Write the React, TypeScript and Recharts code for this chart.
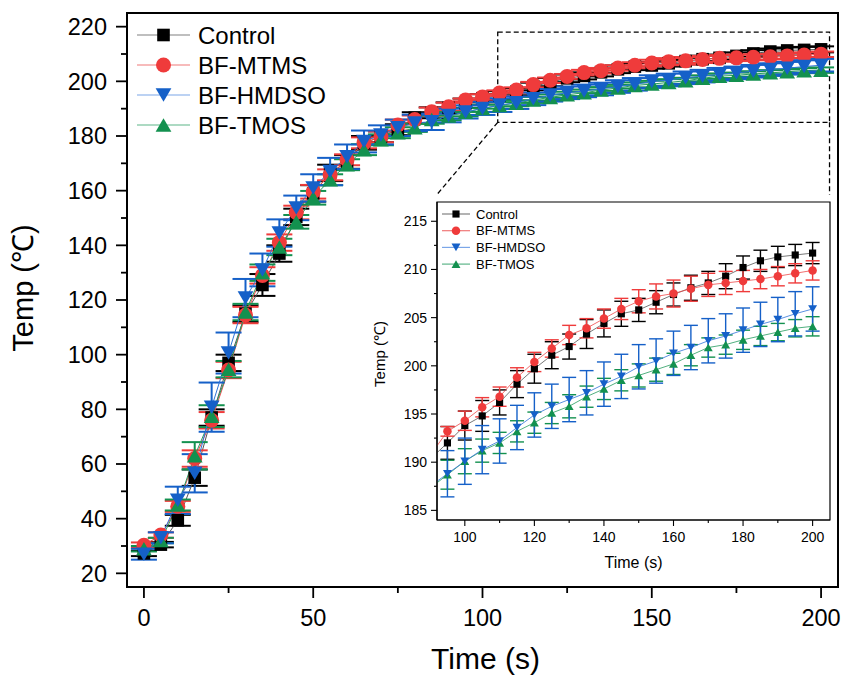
import React from 'react';
import {
  LineChart, Line, XAxis, YAxis, ErrorBar, ReferenceArea, ReferenceLine, Legend,
} from 'recharts';

const FONT = '"Liberation Sans", Arial, sans-serif';

// time points (s)
const time = [
  0, 5, 10, 15, 20, 25, 30, 35, 40, 45, 50, 55, 60, 65, 70, 75, 80, 85, 90, 95,
  100, 105, 110, 115, 120, 125, 130, 135, 140, 145, 150, 155, 160, 165, 170, 175, 180, 185, 190, 195, 200,
];

// temperatures (°C)
const control = [
  27.3, 30.5, 39.4, 55, 77, 97, 115, 125.5, 137, 150.4, 159, 166.5, 170.5, 177.5, 179.7, 182.3, 186.7, 188.5, 190.3, 192.0,
  193.8, 194.8, 196.2, 198.1, 199.7, 201.1, 202.0, 203.3, 204.4, 205.4, 205.8, 206.6, 207.4, 208.1, 208.6, 209.3, 210.2, 210.9, 211.3, 211.5, 211.7,
];
const controlErr = [
  1, 1, 2, 3, 3, 3, 3, 4, 3, 3, 3, 3, 2.5, 2.5, 2, 2, 2, 2, 2, 1.7,
  1.5, 1.6, 1.3, 1.4, 1.5, 1.4, 1.3, 1.5, 1.4, 1.3, 1.2, 1.2, 1.2, 1.3, 1.2, 1.3, 1.2, 1.1, 1.1, 1.1, 1.1,
];
const mtms = [
  30.3, 34, 44.5, 62, 76, 94.4, 114.5, 129, 141, 152, 159.6, 165.8, 171.3, 177.5, 179.7, 184, 186, 188.9, 190.7, 193.2,
  194.3, 195.7, 196.8, 198.8, 200.4, 201.8, 203.2, 203.9, 204.9, 205.9, 206.7, 207.2, 207.5, 208.0, 208.4, 208.6, 208.8, 209.0, 209.3, 209.6, 209.9,
];
const mtmsErr = [
  1, 1, 2, 3, 3, 3, 3, 3, 3, 2.5, 2.5, 2, 2, 2, 2, 2, 1.5, 1.5, 1.5, 0.5,
  1.0, 1.0, 1.0, 1.0, 1.0, 0.9, 1.0, 1.0, 1.0, 1.1, 1.2, 1.3, 1.4, 1.3, 1.2, 1.2, 1.1, 1.0, 1.0, 1.0, 1.0,
];
const hmdso = [
  27, 33, 46.7, 56.6, 80.8, 100.6, 120.7, 131, 144.5, 153.7, 161, 167, 172.4, 178, 180.4, 183, 184.8, 185.2, 187.5, 188.8,
  190.1, 191.3, 192.2, 193.6, 194.9, 195.8, 196.5, 197.2, 198.1, 198.9, 199.9, 200.5, 201.3, 201.9, 202.6, 203.1, 203.7, 204.3, 204.8, 205.4, 205.9,
];
const hmdsoErr = [
  2, 2, 5, 7, 9, 7.5, 7, 6, 5, 4.5, 5, 5, 4.5, 4, 3.5, 3, 3, 3, 2.5, 2.4,
  2.4, 2.5, 2.3, 2.3, 2.3, 2.3, 2.3, 2.3, 2.3, 2.3, 2.3, 2.3, 2.3, 2.3, 2.3, 2.3, 2.3, 2.3, 2.3, 2.3, 2.3,
];
const tmos = [
  29, 32, 45, 63, 77.5, 94.7, 115.6, 130, 139.4, 148.6, 157.4, 164, 169.5, 175, 178.6, 181.2, 183, 186, 187.3, 188.7,
  190.1, 191.2, 192.0, 193.2, 194.1, 195.1, 195.8, 196.8, 197.6, 198.5, 199.0, 199.6, 200.2, 201.1, 201.9, 202.2, 202.7, 203.1, 203.5, 203.9, 204.1,
];
const tmosErr = [
  1, 1, 2, 5, 4, 3, 3, 3, 3, 2.5, 2.5, 2, 2, 2, 2, 2, 1.5, 1.5, 1.5, 1.5,
  1.3, 1.2, 1.1, 1.1, 1.1, 1.1, 1.2, 1.1, 1.1, 1.1, 1.2, 1.2, 1.1, 1.1, 1.0, 1.0, 1.0, 1.0, 0.9, 0.9, 1.0,
];

const mainXTicks = [0, 25, 50, 75, 100, 125, 150, 175, 200];
const mainYTicks = [20, 30, 40, 50, 60, 70, 80, 90, 100, 110, 120, 130, 140, 150, 160, 170, 180, 190, 200, 210, 220];
const insetXTicks = [100, 110, 120, 130, 140, 150, 160, 170, 180, 190, 200];
const insetYTicks = [185, 187.5, 190, 192.5, 195, 197.5, 200, 202.5, 205, 207.5, 210, 212.5, 215];

const series = [
  { key: 'control', err: 'controlErr', name: 'Control', color: '#000000', line: '#555555', legendLine: '#808080', shape: 'square' },
  { key: 'mtms', err: 'mtmsErr', name: 'BF-MTMS', color: '#ef3b3b', line: '#ee4a4a', legendLine: '#f07878', shape: 'circle' },
  { key: 'hmdso', err: 'hmdsoErr', name: 'BF-HMDSO', color: '#1560c8', line: '#2f74d8', legendLine: '#7ba6e8', shape: 'down' },
  { key: 'tmos', err: 'tmosErr', name: 'BF-TMOS', color: '#13914f', line: '#249c5e', legendLine: '#5db588', shape: 'up' },
];
// drawing order (HMDSO on top)
const drawOrder = ['control', 'mtms', 'tmos', 'hmdso'];

const data = time.map((t, i) => ({
  t,
  control: control[i], controlErr: controlErr[i],
  mtms: mtms[i], mtmsErr: mtmsErr[i],
  hmdso: hmdso[i], hmdsoErr: hmdsoErr[i],
  tmos: tmos[i], tmosErr: tmosErr[i],
}));

const insetData = data
  .filter((d) => d.t >= 90)
  .map((d) => (d.t < 95
    ? { ...d, controlErr: null, mtmsErr: null, hmdsoErr: null, tmosErr: null }
    : d));

function marker(shape: string, cx: number, cy: number, s: number, color: string) {
  if (shape === 'square') {
    const a = s * 0.84;
    return <rect x={cx - a / 2} y={cy - a / 2} width={a} height={a} fill={color} />;
  }
  if (shape === 'circle') {
    return <circle cx={cx} cy={cy} r={s / 2} fill={color} />;
  }
  const h = s * 0.9;
  const w = s * 1.05;
  if (shape === 'down') {
    return <polygon points={`${cx - w / 2},${cy - h / 2} ${cx + w / 2},${cy - h / 2} ${cx},${cy + h / 2}`} fill={color} />;
  }
  return <polygon points={`${cx - w / 2},${cy + h / 2} ${cx + w / 2},${cy + h / 2} ${cx},${cy - h / 2}`} fill={color} />;
}

const makeDot = (shape: string, color: string, s: number) => (p: any) => {
  const { cx, cy, index } = p;
  if (cx == null || cy == null) return <g key={`d-${index}`} />;
  return <g key={`d-${index}`}>{marker(shape, cx, cy, s, color)}</g>;
};

const makeXTick = (major: number, len: number, minorLen: number, font: number, dy: number, sw: number) => (p: any) => {
  const { x, y, payload } = p;
  const v = payload.value;
  const isMajor = Math.abs(v % major) < 1e-6;
  return (
    <g>
      <line x1={x} x2={x} y1={y} y2={y + (isMajor ? len : minorLen)} stroke="#000" strokeWidth={sw} />
      {isMajor && (
        <text x={x} y={y + dy} textAnchor="middle" fontSize={font} fontFamily={FONT} fill="#000">{v}</text>
      )}
    </g>
  );
};

const makeYTick = (major: number, len: number, minorLen: number, font: number, gap: number, sw: number) => (p: any) => {
  const { x, y, payload } = p;
  const v = payload.value;
  const isMajor = Math.abs(v % major) < 1e-6;
  return (
    <g>
      <line x1={x} x2={x - (isMajor ? len : minorLen)} y1={y} y2={y} stroke="#000" strokeWidth={sw} />
      {isMajor && (
        <text x={x - len - gap} y={y} dy="0.36em" textAnchor="end" fontSize={font} fontFamily={FONT} fill="#000">{v}</text>
      )}
    </g>
  );
};

const makeLegend = (s: number, rowH: number, y0: number, lineX1: number, lineX2: number, textX: number, font: number, w: number, h: number) => () => (
  <svg width={w} height={h} style={{ display: 'block', overflow: 'visible' }}>
    {series.map((sr, i) => {
      const y = y0 + i * rowH;
      const mx = (lineX1 + lineX2) / 2;
      return (
        <g key={sr.key}>
          <line x1={lineX1} x2={lineX2} y1={y} y2={y} stroke={sr.legendLine} strokeWidth={1.2} />
          {marker(sr.shape, mx, y, s, sr.color)}
          <text x={textX} y={y} dy="0.36em" fontSize={font} fontFamily={FONT} fill="#000">{sr.name}</text>
        </g>
      );
    })}
  </svg>
);

// main chart layout
const W = 843;
const H = 675;
const M_TOP = 13;
const M_RIGHT = 5;
const Y_W = 127;
const X_H = 88;

// inset layout
const IN_LEFT = 370;
const IN_TOP = 195;
const IN_W = 470;
const IN_H = 385;
const IN_Y_W = 67;
const IN_X_H = 60;
const IN_M_TOP = 7;
const IN_M_RIGHT = 10;

export default function App() {
  const mainPlotH = H - M_TOP - X_H;
  const mainPlotW = W - Y_W - M_RIGHT;
  const inPlotH = IN_H - IN_M_TOP - IN_X_H;
  const inPlotW = IN_W - IN_Y_W - IN_M_RIGHT;

  return (
    <div style={{ position: 'absolute', left: 0, top: 0, width: W, height: H, background: '#fff', fontFamily: FONT }}>
      <LineChart
        width={W}
        height={H}
        data={data}
        margin={{ top: M_TOP, right: M_RIGHT, bottom: 0, left: 0 }}
      >
        <XAxis
          type="number"
          dataKey="t"
          domain={[-5, 205]}
          ticks={mainXTicks}
          interval={0}
          height={X_H}
          tickSize={0}
          tickMargin={0}
          tickLine={false}
          axisLine={{ stroke: '#000', strokeWidth: 2 }}
          tick={makeXTick(50, 11, 6, 23.5, 39, 1.8)}
          label={() => (
            <text x={Y_W + mainPlotW / 2 + 3} y={M_TOP + mainPlotH + 82} textAnchor="middle" fontSize={30} fontFamily={FONT} fill="#000">
              Time (s)
            </text>
          )}
        />
        <YAxis
          type="number"
          domain={[15, 225]}
          ticks={mainYTicks}
          interval={0}
          width={Y_W}
          tickSize={0}
          tickMargin={0}
          tickLine={false}
          axisLine={{ stroke: '#000', strokeWidth: 2 }}
          tick={makeYTick(20, 11, 6, 23.5, 9, 1.8)}
          label={() => (
            <text
              x={23}
              y={288}
              transform="rotate(-90, 23, 288)"
              dy="0.36em"
              textAnchor="middle"
              fontSize={29}
              fontFamily={FONT}
              fill="#000"
            >
              Temp (℃)
            </text>
          )}
        />
        <ReferenceArea x1={104.5} x2={202.5} y1={185} y2={218} fill="none" stroke="#000" strokeWidth={1.3} strokeDasharray="5 3" ifOverflow="visible" />
        <ReferenceLine segment={[{ x: 104.5, y: 185 }, { x: 86.5, y: 158.5 }]} stroke="#000" strokeWidth={1.3} strokeDasharray="5 3" ifOverflow="visible" />
        <ReferenceLine segment={[{ x: 202.5, y: 185 }, { x: 202.5, y: 158.5 }]} stroke="#000" strokeWidth={1.3} strokeDasharray="5 3" ifOverflow="visible" />
        {drawOrder.map((k) => {
          const sr = series.find((s) => s.key === k)!;
          return (
            <Line
              key={sr.key}
              dataKey={sr.key}
              name={sr.name}
              stroke={sr.line}
              strokeWidth={1}
              dot={makeDot(sr.shape, sr.color, 15)}
              activeDot={false}
              isAnimationActive={false}
            >
              <ErrorBar dataKey={sr.err} direction="y" width={13} stroke={sr.color} strokeWidth={2} />
            </Line>
          );
        })}
        <ReferenceArea x1={-5} x2={205} y1={15} y2={225} fill="none" stroke="#000" strokeWidth={2} ifOverflow="visible" />
        <Legend
          layout="vertical"
          align="center"
          verticalAlign="middle"
          wrapperStyle={{ left: 130, top: 18, width: 260, height: 125 }}
          content={makeLegend(15, 30, 17, 7, 60, 68, 24, 260, 125)}
        />
      </LineChart>

      <div style={{ position: 'absolute', left: IN_LEFT, top: IN_TOP, width: IN_W, height: IN_H }}>
        <LineChart
          width={IN_W}
          height={IN_H}
          data={insetData}
          margin={{ top: IN_M_TOP, right: IN_M_RIGHT, bottom: 0, left: 0 }}
        >
          <XAxis
            type="number"
            dataKey="t"
            domain={[92, 205]}
            allowDataOverflow
            ticks={insetXTicks}
            interval={0}
            height={IN_X_H}
            tickSize={0}
            tickMargin={0}
            tickLine={false}
            axisLine={{ stroke: '#000', strokeWidth: 1.2 }}
            tick={makeXTick(20, 6, 3, 14, 22, 1.1)}
            label={() => (
              <text x={IN_Y_W + inPlotW / 2} y={IN_M_TOP + inPlotH + 48} textAnchor="middle" fontSize={16} fontFamily={FONT} fill="#000">
                Time (s)
              </text>
            )}
          />
          <YAxis
            type="number"
            domain={[184, 217]}
            allowDataOverflow
            ticks={insetYTicks}
            interval={0}
            width={IN_Y_W}
            tickSize={0}
            tickMargin={0}
            tickLine={false}
            axisLine={{ stroke: '#000', strokeWidth: 1.2 }}
            tick={makeYTick(5, 6, 3, 14, 4, 1.1)}
            label={() => (
              <text
                x={10}
                y={IN_M_TOP + inPlotH / 2 - 7}
                transform={`rotate(-90, 10, ${IN_M_TOP + inPlotH / 2 - 7})`}
                dy="0.36em"
                textAnchor="middle"
                fontSize={15}
                fontFamily={FONT}
                fill="#000"
              >
                Temp (℃)
              </text>
            )}
          />
          {drawOrder.map((k) => {
            const sr = series.find((s) => s.key === k)!;
            return (
              <Line
                key={sr.key}
                dataKey={sr.key}
                name={sr.name}
                stroke={sr.line}
                strokeWidth={0.8}
                dot={makeDot(sr.shape, sr.color, 8.5)}
                activeDot={false}
                isAnimationActive={false}
              >
                <ErrorBar dataKey={sr.err} direction="y" width={7} stroke={sr.color} strokeWidth={1.4} />
              </Line>
            );
          })}
          <ReferenceArea x1={92} x2={205} y1={184} y2={217} fill="none" stroke="#000" strokeWidth={1.2} ifOverflow="visible" />
          <Legend
            layout="vertical"
            align="center"
            verticalAlign="middle"
            wrapperStyle={{ left: 70, top: 11, width: 140, height: 66 }}
            content={makeLegend(8.5, 16.7, 8, 2, 30, 36, 13, 140, 66)}
          />
        </LineChart>
      </div>
    </div>
  );
}
